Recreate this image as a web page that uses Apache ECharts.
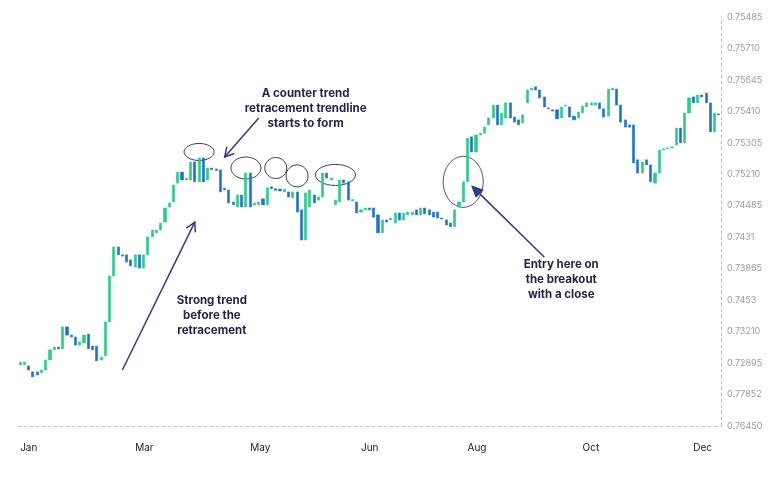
<!DOCTYPE html>
<html>
<head>
<meta charset="utf-8">
<script src="https://cdn.jsdelivr.net/npm/echarts@6/dist/echarts.min.js"></script>
<style>
html,body{margin:0;padding:0;background:#fff;}
#chart{width:780px;height:495px;}
</style>
</head>
<body>
<div id="chart"></div>
<script>
// Price levels expressed in axis-tick units (0 = bottom tick, 13 = top tick)
const openVals = [
  1.94,1.95,1.91,1.72,1.72,1.69,1.78,2.10,2.42,2.51,
  2.45,3.15,2.89,2.83,2.57,2.64,2.92,2.54,2.54,2.10,
  2.23,3.31,4.77,5.69,5.44,5.44,5.28,5.05,5.44,5.02,
  5.44,6.01,6.14,6.23,6.48,6.96,7.12,7.72,8.07,7.82,
  7.82,8.39,7.76,8.52,7.82,8.20,8.17,8.14,7.56,7.50,
  7.12,6.96,7.34,6.96,8.04,7.02,7.03,7.22,7.03,7.60,
  7.54,7.53,7.44,7.44,7.25,7.44,6.87,5.91,6.96,7.34,
  7.18,7.28,8.04,7.82,7.03,7.12,7.82,7.76,7.15,7.12,
  6.80,6.87,6.93,6.93,6.71,6.14,6.55,6.55,6.45,6.77,
  6.55,6.71,6.71,6.87,6.71,6.93,6.87,6.80,6.80,6.61,
  6.55,6.45,6.33,6.96,7.12,7.76,9.19,8.71,9.25,9.31,
  9.57,9.79,10.20,9.57,9.79,10.27,9.82,9.73,9.63,10.27,
  10.68,10.78,10.68,10.46,10.11,10.05,10.05,9.79,10.17,10.14,
  9.85,9.79,9.95,10.14,10.20,10.20,10.27,10.08,9.85,10.68,
  10.71,10.20,9.73,9.57,9.57,8.46,8.04,8.46,8.30,7.72,
  8.04,8.77,8.81,8.84,8.93,9.47,9.00,9.95,10.46,10.27,
  10.52,10.58,10.27,9.35,9.92
];
const closeVals = [
  2.03,2.03,1.78,1.56,1.62,1.78,2.10,2.42,2.51,2.45,
  3.15,2.89,2.83,2.57,2.67,2.89,2.45,2.42,2.07,2.19,
  3.31,4.77,5.69,5.44,5.40,5.21,5.09,5.44,5.02,5.44,
  6.01,6.23,6.23,6.45,6.93,7.09,7.66,8.07,7.82,7.88,
  8.39,7.76,8.52,7.76,8.20,8.15,8.12,7.44,7.50,7.09,
  7.03,7.34,6.96,8.04,6.96,7.09,7.12,7.03,7.57,7.54,
  7.49,7.47,7.53,7.28,7.44,6.80,5.91,7.41,7.50,7.09,
  7.28,8.04,7.88,7.88,7.18,7.82,7.72,7.18,7.20,6.77,
  6.87,6.93,6.87,6.64,6.14,6.55,6.48,6.61,6.77,6.55,
  6.77,6.80,6.80,6.71,6.93,6.74,6.71,6.64,6.61,6.58,
  6.39,6.33,6.87,7.12,7.76,9.15,8.71,9.25,9.31,9.50,
  9.79,10.20,9.57,9.95,10.27,9.79,9.66,9.57,9.89,10.68,
  10.74,10.68,10.43,10.14,10.08,10.01,9.76,10.14,10.20,9.82,
  9.73,9.98,10.17,10.27,10.27,10.27,10.08,9.82,10.71,10.74,
  10.20,9.66,9.50,9.50,8.36,8.04,8.39,8.30,7.76,8.04,
  8.77,8.81,8.84,8.87,9.47,9.00,9.95,10.43,10.27,10.52,
  10.46,10.27,9.35,9.95,9.89
];
// Right axis tick labels, bottom to top (as printed on the original)
const yTickLabels = ['0.76450','0.77852','0.72895','0.73210','0.7453','0.73865','0.7431',
  '0.74485','0.75210','0.75305','0.75410','0.75645','0.75710','0.75485'];
// Month labels and the bar index where each appears
const monthLabels = ['Jan','Mar','May','Jun','Aug','Oct','Dec'];
const monthIndex = [0, 27, 54, 80, 105, 132, 158];

// Annotations in data coordinates [bar index, level]
const ellipses = [
  {c:[41.8, 8.71], w:30, h:17, color:'#3a3f55'},
  {c:[52.6, 8.20], w:30, h:22, color:'#3a3f55'},
  {c:[59.6, 8.20], w:22, h:21, color:'#3a3f55'},
  {c:[64.8, 7.95], w:22, h:22, color:'#3a3f55'},
  {c:[74.1, 7.98], w:40, h:21, color:'#3a3f55'},
  {c:[103.7, 7.76], w:40, h:51, color:'#4b4f8f'}
];
const arrows = [
  {from:[56.3, 9.79], to:[47.9, 8.55], head:'open'},
  {from:[23.9, 1.78], to:[41.1, 6.48], head:'open'},
  {from:[122.5, 5.37], to:[105.8, 7.63], head:'filled'}
];
const notes = [
  {at:[66.9, 10.09], text:'A counter trend\nretracement trendline\nstarts to form'},
  {at:[45.0, 3.50], text:'Strong trend\nbefore the\nretracement'},
  {at:[127.4, 4.64], text:'Entry here on\nthe breakout\nwith a close'}
];

const categories = openVals.map((_, i) => i);
const candleData = openVals.map((o, i) => {
  const c = closeVals[i];
  return [o, c, Math.min(o, c), Math.max(o, c)];
});

const GREEN = '#27cf86', BLUE = '#1b74d3';
const chart = echarts.init(document.getElementById('chart'));
chart.setOption({
  animation: false,
  backgroundColor: '#ffffff',
  grid: {left: 18, right: 59, top: 17, bottom: 69, containLabel: false},
  xAxis: {
    type: 'category',
    data: categories,
    boundaryGap: true,
    axisLine: {show: true, lineStyle: {color: '#c8c8c8', type: [3, 3], width: 1}},
    axisTick: {show: false},
    splitLine: {show: false},
    axisLabel: {
      interval: (idx) => monthIndex.includes(idx),
      formatter: (v, idx) => { const k = monthIndex.indexOf(Number(v)); return k >= 0 ? monthLabels[k] : ''; },
      align: 'left',
      margin: 17,
      fontSize: 10,
      color: '#222',
      fontFamily: 'Inter, "Noto Sans", sans-serif'
    }
  },
  yAxis: {
    type: 'value',
    position: 'right',
    min: 0, max: 13, interval: 1,
    axisLine: {show: true, lineStyle: {color: '#bdbdbd', type: [3, 3], width: 1}},
    axisTick: {show: false},
    splitLine: {show: false},
    axisLabel: {
      formatter: (v) => yTickLabels[Math.round(v)] || '',
      margin: 6,
      fontSize: 9,
      color: '#9c9c9c',
      showMinLabel: true, showMaxLabel: true,
      fontFamily: 'Inter, "Noto Sans", sans-serif'
    }
  },
  series: [{
    type: 'candlestick',
    data: candleData,
    barWidth: 2.6,
    itemStyle: {color: GREEN, color0: BLUE, borderColor: GREEN, borderColor0: BLUE, borderWidth: 0.6}
  }]
});

function px(p) { return chart.convertToPixel({gridIndex: 0}, p); }
const ARROW = '#2f3a8c';
const graphics = [];
ellipses.forEach(e => {
  const p = px(e.c);
  graphics.push({type:'ellipse', shape:{cx:p[0], cy:p[1], rx:e.w/2, ry:e.h/2},
    style:{fill:'none', stroke:e.color, lineWidth:1}, silent:true});
});
arrows.forEach(a => {
  const s = px(a.from), t = px(a.to);
  const dx = t[0]-s[0], dy = t[1]-s[1], L = Math.hypot(dx, dy);
  const ux = dx/L, uy = dy/L, nx = -uy, ny = ux;
  const hl = a.head === 'open' ? 9 : 11, hw = 5;
  const b = [t[0]-ux*hl, t[1]-uy*hl];
  const l = [b[0]+nx*hw, b[1]+ny*hw], r = [b[0]-nx*hw, b[1]-ny*hw];
  if (a.head === 'open') {
    graphics.push({type:'line', shape:{x1:s[0], y1:s[1], x2:t[0], y2:t[1]},
      style:{stroke:ARROW, lineWidth:1.5}, silent:true});
    graphics.push({type:'polyline', shape:{points:[l, t, r]},
      style:{fill:'none', stroke:ARROW, lineWidth:1.5}, silent:true});
  } else {
    graphics.push({type:'line', shape:{x1:s[0], y1:s[1], x2:b[0], y2:b[1]},
      style:{stroke:ARROW, lineWidth:1.5}, silent:true});
    graphics.push({type:'polygon', shape:{points:[l, t, r]},
      style:{fill:ARROW, stroke:ARROW, lineWidth:1}, silent:true});
  }
});
notes.forEach(n => {
  const p = px(n.at);
  graphics.push({type:'text', x:p[0], y:p[1], silent:true,
    style:{text:n.text, fill:'#1d2347', font:'bold 11.5px Inter, "Noto Sans", sans-serif',
      align:'center', verticalAlign:'middle', lineHeight:15}});
});
chart.setOption({graphic: graphics});
</script>
</body>
</html>
